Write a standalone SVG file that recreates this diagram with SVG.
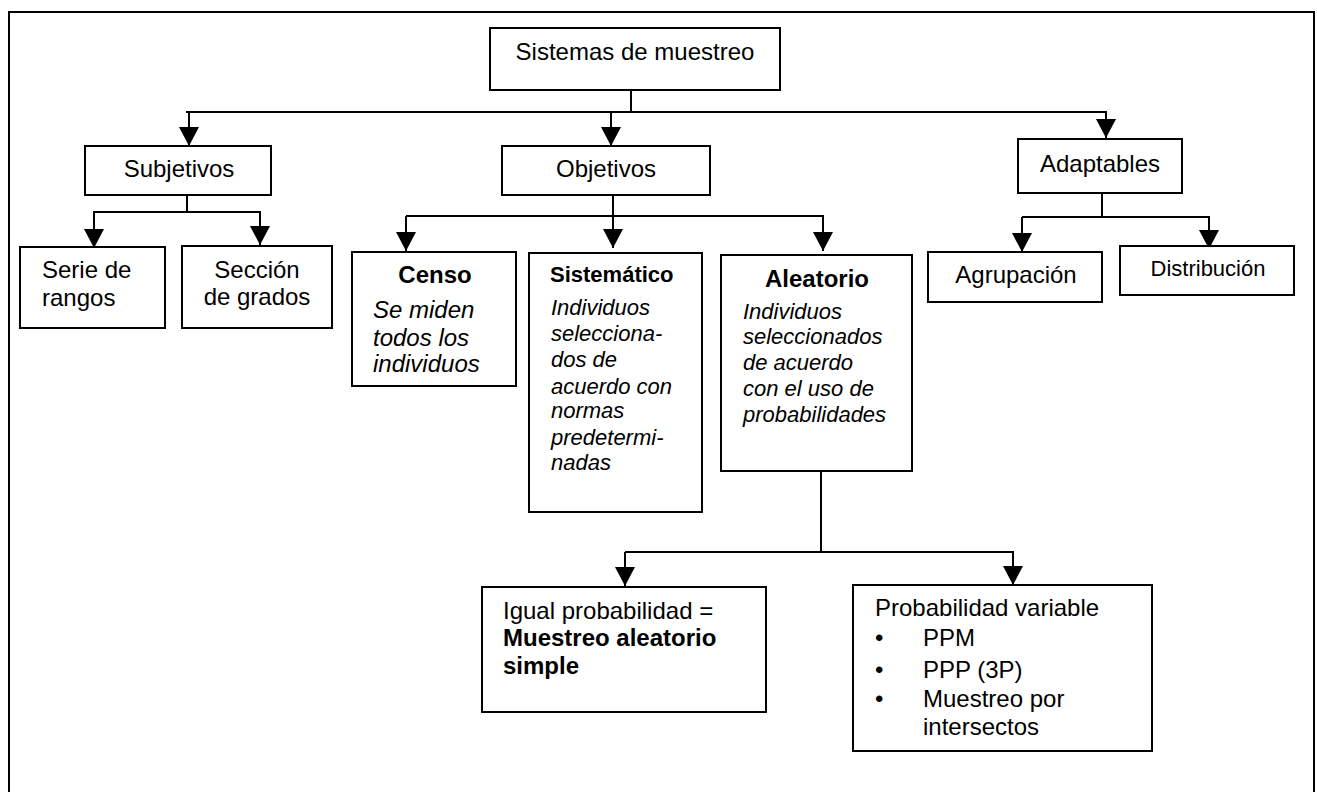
<svg xmlns="http://www.w3.org/2000/svg" width="1317" height="792" viewBox="0 0 1317 792">
<style>
.box{fill:#fff;stroke:#000;stroke-width:2}
.frame{fill:none;stroke:#000;stroke-width:2}
.c{fill:none;stroke:#000;stroke-width:2}
.a{fill:none;stroke:#000;stroke-width:2;marker-end:url(#ah)}
text{font-family:"Liberation Sans",Arial,sans-serif;font-size:24px;fill:#000}
.m{text-anchor:middle}
.b{font-weight:bold}
.i{font-style:italic}
.s{font-size:22px}
</style>
<defs>
<marker id="ah" viewBox="0 0 19 20" refX="19" refY="10" markerWidth="19" markerHeight="20" markerUnits="userSpaceOnUse" orient="auto">
<path d="M0,0 L19,10 L0,20 Z" fill="#000"/>
</marker>
</defs>
<rect width="1317" height="792" fill="#fff"/>
<rect class="frame" x="9" y="12" width="1305" height="800"/>

<g id="connectors">
<path class="c" d="M631,90 V112 M186,112 H1107"/>
<path class="a" d="M189,112 V146"/>
<path class="a" d="M611,112 V146"/>
<path class="a" d="M1106,112 V138"/>
<path class="c" d="M187,195 V212 M93,212 H261"/>
<path class="a" d="M94,212 V248"/>
<path class="a" d="M260,212 V245"/>
<path class="c" d="M613,195 V216 M406,216 H824"/>
<path class="a" d="M406,216 V251"/>
<path class="a" d="M613,216 V248"/>
<path class="a" d="M823,216 V251"/>
<path class="c" d="M1102,193 V217 M1022,217 H1210"/>
<path class="a" d="M1022,217 V252"/>
<path class="a" d="M1209,217 V249"/>
<path class="c" d="M821,471 V552 M625,552 H1014"/>
<path class="a" d="M625,552 V586"/>
<path class="a" d="M1013,552 V585"/>
</g>

<g id="sistemas">
<rect class="box" x="490" y="28" width="290" height="62"/>
<text class="m" x="635" y="60">Sistemas de muestreo</text>
</g>

<g id="subjetivos">
<rect class="box" x="85" y="146" width="186" height="49"/>
<text class="m" x="179" y="177">Subjetivos</text>
</g>

<g id="objetivos">
<rect class="box" x="502" y="146" width="208" height="49"/>
<text class="m" x="606" y="177">Objetivos</text>
</g>

<g id="adaptables">
<rect class="box" x="1018" y="139" width="164" height="54"/>
<text class="m" x="1100" y="172">Adaptables</text>
</g>

<g id="serie">
<rect class="box" x="20" y="247" width="145" height="81"/>
<text x="42" y="278">Serie de</text>
<text x="42" y="306">rangos</text>
</g>

<g id="seccion">
<rect class="box" x="182" y="246" width="150" height="82"/>
<text class="m" x="257" y="278">Sección</text>
<text class="m" x="257" y="305">de grados</text>
</g>

<g id="censo">
<rect class="box" x="352" y="252" width="164" height="134"/>
<text class="m b" x="435" y="283">Censo</text>
<text class="i" x="373" y="318">Se miden</text>
<text class="i" x="373" y="346">todos los</text>
<text class="i" x="373" y="372">individuos</text>
</g>

<g id="sistematico">
<rect class="box" x="529" y="253" width="173" height="259"/>
<text class="b s" x="550" y="282">Sistemático</text>
<text class="i s" x="551" y="315">Individuos</text>
<text class="i s" x="551" y="341">selecciona-</text>
<text class="i s" x="551" y="367">dos de</text>
<text class="i s" x="551" y="394">acuerdo con</text>
<text class="i s" x="551" y="418">normas</text>
<text class="i s" x="551" y="445">predetermi-</text>
<text class="i s" x="551" y="470">nadas</text>
</g>

<g id="aleatorio">
<rect class="box" x="721" y="255" width="191" height="216"/>
<text class="m b" x="817" y="287">Aleatorio</text>
<text class="i s" x="743" y="319">Individuos</text>
<text class="i s" x="743" y="344">seleccionados</text>
<text class="i s" x="743" y="370">de acuerdo</text>
<text class="i s" x="743" y="396">con el uso de</text>
<text class="i s" x="743" y="422">probabilidades</text>
</g>

<g id="agrupacion">
<rect class="box" x="928" y="252" width="174" height="50"/>
<text class="m" x="1016" y="283">Agrupación</text>
</g>

<g id="distribucion">
<rect class="box" x="1120" y="246" width="174" height="49"/>
<text class="m s" x="1208" y="276">Distribución</text>
</g>

<g id="igual">
<rect class="box" x="482" y="587" width="284" height="125"/>
<text x="503" y="619">Igual probabilidad =</text>
<text class="b" x="503" y="646">Muestreo aleatorio</text>
<text class="b" x="503" y="674">simple</text>
</g>

<g id="variable">
<rect class="box" x="853" y="585" width="299" height="166"/>
<text x="875" y="616">Probabilidad variable</text>
<text x="875" y="646">•</text>
<text x="923" y="646">PPM</text>
<text x="875" y="678">•</text>
<text x="923" y="678">PPP (3P)</text>
<text x="875" y="707">•</text>
<text x="923" y="707">Muestreo por</text>
<text x="923" y="735">intersectos</text>
</g>
</svg>
